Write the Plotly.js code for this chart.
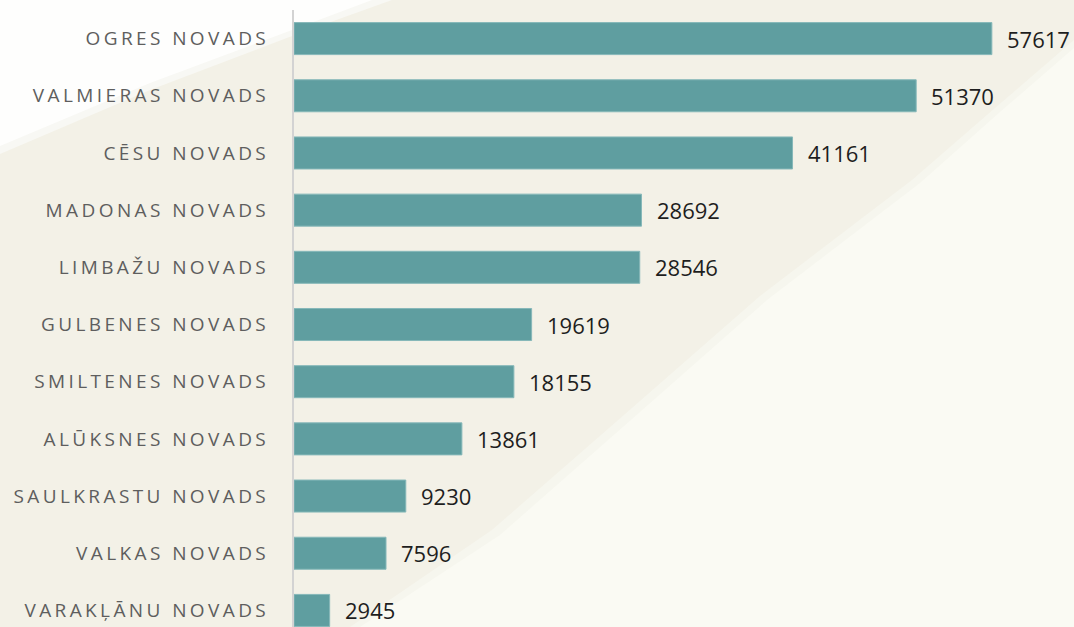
<!DOCTYPE html>
<html>
<head>
<meta charset="utf-8">
<script src="https://cdn.plot.ly/plotly-3.0.1.min.js"></script>
<style>
  html, body { margin: 0; padding: 0; background: #F3F1E7; }
  #chart { width: 1074px; height: 627px; }
  .yaxislayer-above text { letter-spacing: 3.4px; }
</style>
</head>
<body>
<div id="chart"></div>
<script>
const categories = [
  "OGRES NOVADS", "VALMIERAS NOVADS", "CĒSU NOVADS", "MADONAS NOVADS",
  "LIMBAŽU NOVADS", "GULBENES NOVADS", "SMILTENES NOVADS", "ALŪKSNES NOVADS",
  "SAULKRASTU NOVADS", "VALKAS NOVADS", "VARAKĻĀNU NOVADS"
];
const values = [57617, 51370, 41161, 28692, 28546, 19619, 18155, 13861, 9230, 7596, 2945];

const W = 1074, H = 627;
const M = { l: 294, r: 0, t: 10, b: 0 };
const PW = W - M.l - M.r, PH = H - M.t - M.b;
// decorative background shapes, pixel -> paper conversion
function px(x, y) { return [(x - M.l) / PW, 1 - (y - M.t) / PH]; }
function pathFrom(pts) {
  return pts.map((p, i) => { const q = px(p[0], p[1]); return (i ? 'L' : 'M') + q[0].toFixed(4) + ',' + q[1].toFixed(4); }).join(' ') + ' Z';
}
const whiteArea = pathFrom([[0, 0], [372, 0], [300, 27], [150, 83], [0, 146]]);
const whiteSoft = pathFrom([[0, 0], [392, 0], [300, 33], [150, 90], [0, 154]]);
const creamArea = pathFrom([[1074, 48], [1000, 112], [920, 183], [767, 300], [640, 412], [500, 535], [360, 627], [1074, 627]]);
const creamSoft = pathFrom([[1074, 40], [995, 108], [912, 180], [760, 296], [632, 408], [492, 530], [350, 627], [1074, 627]]);

const trace = {
  type: 'bar',
  orientation: 'h',
  x: values,
  y: categories,
  marker: { color: '#5F9EA0', line: { color: '#86B8B9', width: 1 } },
  hoverinfo: 'none'
};

const annotations = categories.map((c, i) => ({
  x: values[i], y: c, xref: 'x', yref: 'y',
  text: String(values[i]), showarrow: false,
  xanchor: 'left', yanchor: 'middle', xshift: 13, yshift: 0,
  font: { family: 'Open Sans, sans-serif', size: 22, color: '#1E1E1E' }
}));

const layout = {
  width: W, height: H,
  margin: M,
  paper_bgcolor: '#F3F1E7',
  plot_bgcolor: 'rgba(0,0,0,0)',
  showlegend: false,
  bargap: 0.44,
  xaxis: {
    range: [0, 64400], visible: false, showgrid: false, zeroline: false, fixedrange: true
  },
  yaxis: {
    type: 'category',
    range: [10.29, -0.5],
    autorange: false,
    showline: true, linecolor: '#D3D3D3', linewidth: 2,
    showgrid: false, zeroline: false,
    ticks: 'outside', ticklen: 19, tickcolor: 'rgba(0,0,0,0)',
    tickfont: { family: 'Open Sans, sans-serif', size: 19, color: '#5E5E5E' }
  },
  shapes: [
    { type: 'path', xref: 'paper', yref: 'paper', layer: 'below', path: whiteSoft, fillcolor: '#F8F8F4', line: { width: 0 } },
    { type: 'path', xref: 'paper', yref: 'paper', layer: 'below', path: whiteArea, fillcolor: '#FEFEFD', line: { width: 0 } },
    { type: 'path', xref: 'paper', yref: 'paper', layer: 'below', path: creamSoft, fillcolor: '#F6F6EE', line: { width: 0 } },
    { type: 'path', xref: 'paper', yref: 'paper', layer: 'below', path: creamArea, fillcolor: '#FAFAF3', line: { width: 0 } }
  ],
  annotations: annotations
};

Plotly.newPlot('chart', [trace], layout, { displayModeBar: false, staticPlot: true });
</script>
</body>
</html>
